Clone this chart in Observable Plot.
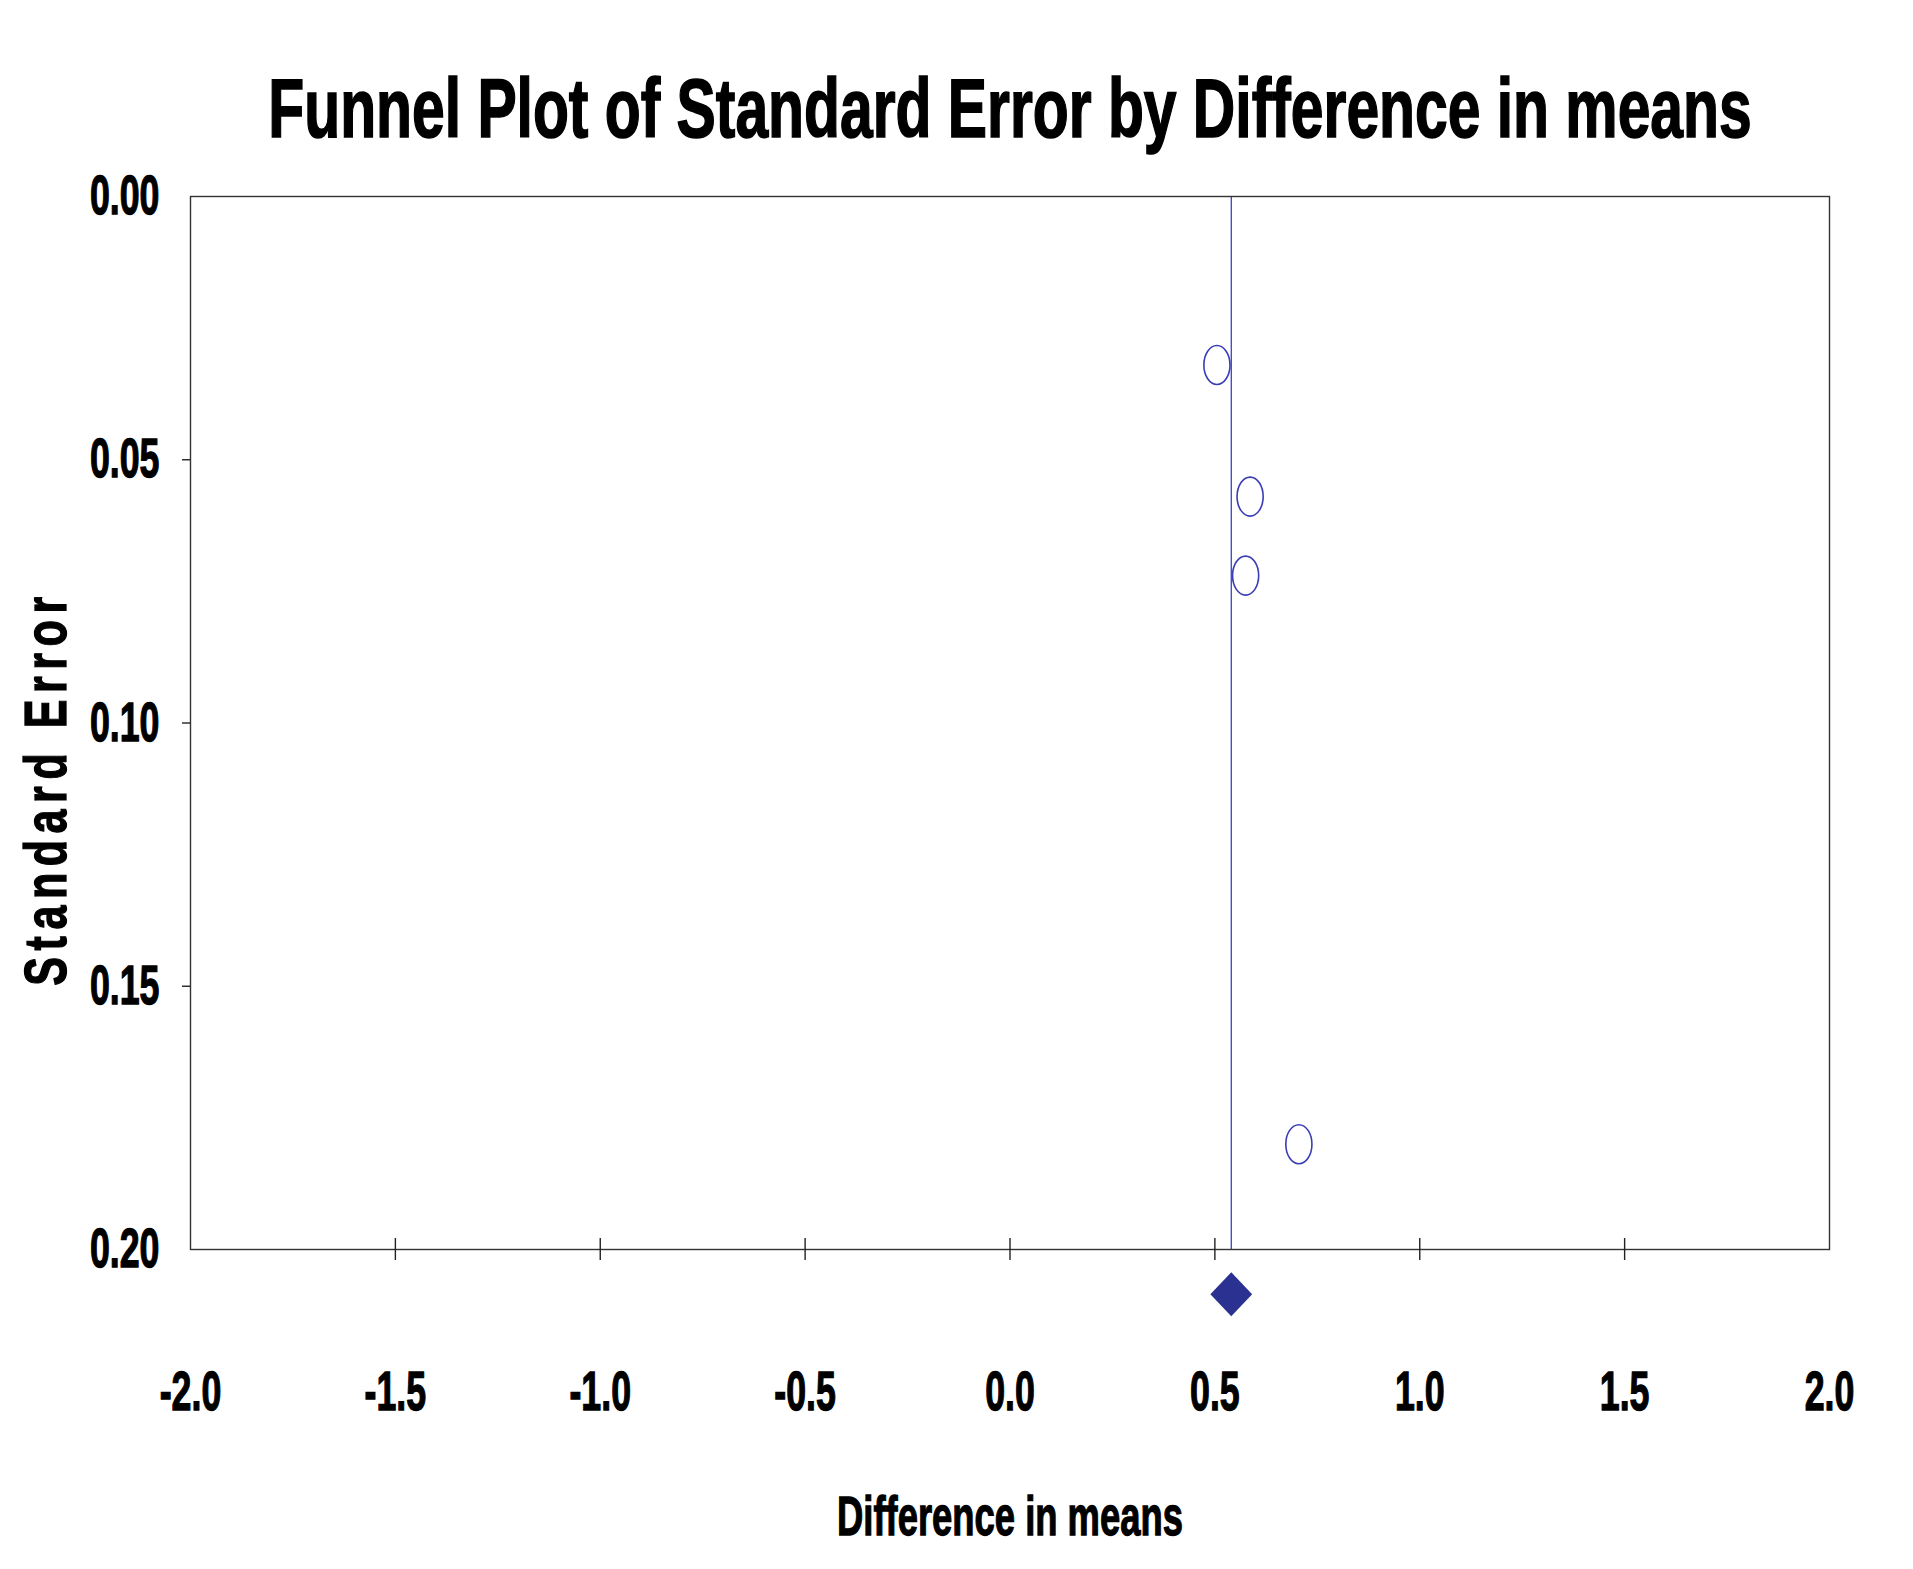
<!DOCTYPE html>
<html><head><meta charset="utf-8">
<script src="https://cdn.jsdelivr.net/npm/d3@7"></script>
<script src="https://cdn.jsdelivr.net/npm/@observablehq/plot@0.6"></script>
<style>
html,body{margin:0;padding:0;background:#fff;overflow:hidden;}
#title{position:relative;height:150px;}
#title span{position:absolute;left:1009.5px;top:66px;white-space:nowrap;font:bold 84px/84px "Liberation Sans",Arial,sans-serif;color:#000;-webkit-text-stroke:1.6px #000;transform:translateX(-50%) scaleX(0.70);}
#chart{height:1419px;}
</style></head><body>
<div id="title"><span>Funnel Plot of Standard Error by Difference in means</span></div>
<div id="chart"></div>
<script>
// Study points (difference in means, standard error)
const studyDiff = [0.505, 0.586, 0.575, 0.705];
const studySE = [0.032, 0.057, 0.072, 0.180];
// Summary effect (diamond drawn below the axis) and its reference line
const summaryDiff = [0.54];
const summaryRow = [0.2085];
// Axis ticks
const xTickLabels = [-2, -1.5, -1, -0.5, 0, 0.5, 1, 1.5, 2];
const xTickMarks = [-1.5, -1, -0.5, 0, 0.5, 1, 1.5];
const yTickLabels = [0, 0.05, 0.1, 0.15, 0.2];
const yTickMarks = [0.05, 0.1, 0.15];
const xTitle = "Difference in means";
const yTitle = "Standard Error";

const studies = studyDiff.map((d, i) => ({diff: d, se: studySE[i]}));
const summary = summaryDiff.map((d, i) => ({diff: d, se: summaryRow[i]}));

const ellipse = {
  draw(ctx, size) {
    const ry = Math.sqrt(size / Math.PI), rx = ry * 0.67, k = 0.5523;
    ctx.moveTo(rx, 0);
    ctx.bezierCurveTo(rx, ry * k, rx * k, ry, 0, ry);
    ctx.bezierCurveTo(-rx * k, ry, -rx, ry * k, -rx, 0);
    ctx.bezierCurveTo(-rx, -ry * k, -rx * k, -ry, 0, -ry);
    ctx.bezierCurveTo(rx * k, -ry, rx, -ry * k, rx, 0);
    ctx.closePath();
  }
};
const diamond = {
  draw(ctx, size) {
    const r = Math.sqrt(size / Math.PI), w = r * 0.95;
    ctx.moveTo(0, -r);
    ctx.lineTo(w, 0);
    ctx.lineTo(0, r);
    ctx.lineTo(-w, 0);
    ctx.closePath();
  }
};

const font = '"Liberation Sans", Arial, sans-serif';
const chart = Plot.plot({
  width: 1913,
  height: 1419,
  marginTop: 46,
  marginBottom: 320,
  marginLeft: 190,
  marginRight: 84,
  style: {fontFamily: font, background: "#fff", color: "#000"},
  x: {domain: [-2, 2], label: null},
  y: {domain: [0, 0.2], reverse: true, label: null},
  marks: [
    Plot.ruleX(summaryDiff, {x: d => d, stroke: "#2a2fc4", strokeWidth: 1.2}),
    Plot.frame({stroke: "#333", strokeWidth: 1.4}),
    Plot.axisX({ticks: xTickMarks, tickSize: 22, dy: -11, fill: "none", label: null, stroke: "#222", strokeWidth: 1.4}),
    Plot.axisX({ticks: xTickLabels, tickSize: 0, tickPadding: 121, tickFormat: d => d.toFixed(1), fontSize: 55, fontWeight: "bold", label: null}),
    Plot.axisY({ticks: yTickMarks, tickSize: 8, fill: "none", label: null, stroke: "#222", strokeWidth: 1.4}),
    Plot.axisY({ticks: yTickLabels, tickSize: 0, tickPadding: 31, tickFormat: d => d.toFixed(2), fontSize: 55, fontWeight: "bold", label: null}),
    Plot.dot(studies, {x: "diff", y: "se", r: 19.5, symbol: ellipse, stroke: "#3a3db5", strokeWidth: 1.6, fill: "none"}),
    Plot.dot(summary, {x: "diff", y: "se", r: 22, symbol: diamond, fill: "#2b3190", stroke: "none"}),
    Plot.text([xTitle], {text: d => d, frameAnchor: "bottom", textAnchor: "middle", lineAnchor: "bottom", dy: 285, fontSize: 56, fontWeight: "bold"}),
    Plot.text([yTitle], {text: d => d, frameAnchor: "left", textAnchor: "middle", dx: -143.5, dy: 65, rotate: -90, fontSize: 60, fontWeight: "bold"})
  ]
});

// Horizontally condensed, heavy lettering, as in the original chart
chart.querySelectorAll("text").forEach(t => {
  const s = t.textContent;
  let k = null;
  if (s === xTitle) k = 0.65;
  else if (s === yTitle) { t.style.letterSpacing = "9px"; k = 0.72; }
  else if (/^-?\d+\.\d+$/.test(s)) k = 0.65;
  if (k != null) {
    t.setAttribute("transform", (t.getAttribute("transform") || "") + ` scale(${k},1)`);
    t.setAttribute("stroke", "#000");
    t.setAttribute("stroke-width", "1.3");
  }
});

document.getElementById("chart").append(chart);
</script>
</body></html>
